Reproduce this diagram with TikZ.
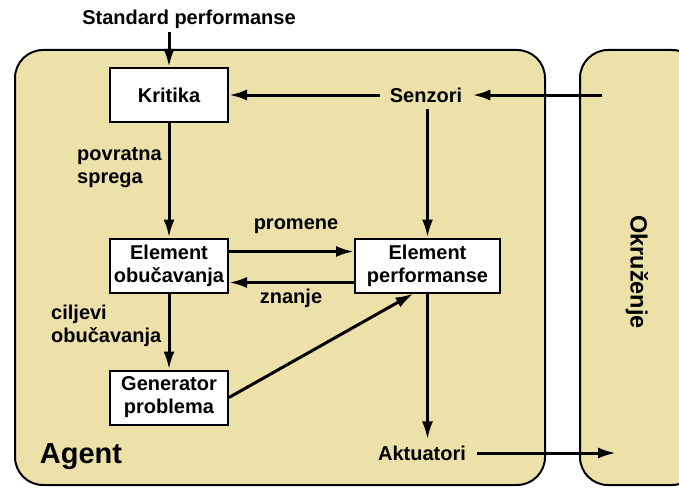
\documentclass[tikz,border=0pt]{standalone}
\usepackage{fontspec}
\setmainfont{Liberation Sans}
\usetikzlibrary{arrows.meta}
\definecolor{panel}{RGB}{237,225,170}
\begin{document}
\begin{tikzpicture}[x=1pt,y=-1pt,
  txt/.style={font=\fontsize{20}{23}\selectfont\bfseries, inner sep=0pt},
  blk/.style={txt, draw, fill=white, line width=2pt, align=center,
    minimum width=118pt, minimum height=54pt},
  arr/.style={line width=3pt, -{Latex[length=18pt,width=11pt]}},
  region/.style={draw, line width=2pt, fill=panel, rounded corners=28pt}]
  \useasboundingbox (0,0) rectangle (679,487);
  % agent and environment panels
  \begin{scope}
    \clip (0,0) rectangle (679,487);
    \draw[region] (15,50) rectangle (545,485);
    \draw[region] (580,50) rectangle (700,485);
  \end{scope}

  % blocks
  \node[blk] (krit) at (169,95) {Kritika};
  \node[blk] (obuc) at (169,265.5) {Element\\obučavanja};
  \node[blk, minimum width=145pt] (perf) at (427.5,265.5) {Element\\performanse};
  \node[blk] (gen) at (169,397.5) {Generator\\problema};

  % free labels
  \node[txt, inner sep=3pt] (std) at (189,19) {Standard performanse};
  \node[txt, inner xsep=10pt, inner ysep=6pt] (senz) at (426,95) {Senzori};
  \node[txt, inner xsep=11pt, inner ysep=6pt] (akt) at (422,453) {Aktuatori};
  \node[txt, align=left, anchor=west] (povr) at (77,168) {povratna\\sprega};
  \node[txt] (prom) at (296,226) {promene};
  \node[txt] (znan) at (291,298) {znanje};
  \node[txt, align=left, anchor=west] (cilj) at (51,326) {ciljevi\\obučavanja};
  \node[txt, font=\fontsize{29}{30}\selectfont\bfseries] (agent) at (81,457) {Agent};
  \node[txt, font=\fontsize{23.5}{24}\selectfont\bfseries, rotate=-90] (env) at (637,272) {Okruženje};

  \coordinate (envin) at (602,95);
  \coordinate (envout) at (616,453);

  % connectors
  \draw[arr] (krit.north |- std.south) -- (krit.north);
  \draw[arr] (envin) -- (senz.east);
  \draw[arr] (senz.west) -- (krit.east);
  \draw[arr] (senz.south -| perf.north) -- (perf.north);
  \draw[arr] (krit.south) -- (obuc.north);
  \draw[arr] ([yshift=14pt]obuc.east) -- ([yshift=14pt]perf.west);
  \draw[arr] ([yshift=-17pt]perf.west) -- ([yshift=-17pt]obuc.east);
  \draw[arr] (obuc.south) -- (gen.north);
  \draw[arr] (gen.east) -- ([xshift=-14pt]perf.south);
  \draw[arr] (perf.south) -- (perf.south |- akt.north);
  \draw[arr] (akt.east) -- (envout);
\end{tikzpicture}
\end{document}
